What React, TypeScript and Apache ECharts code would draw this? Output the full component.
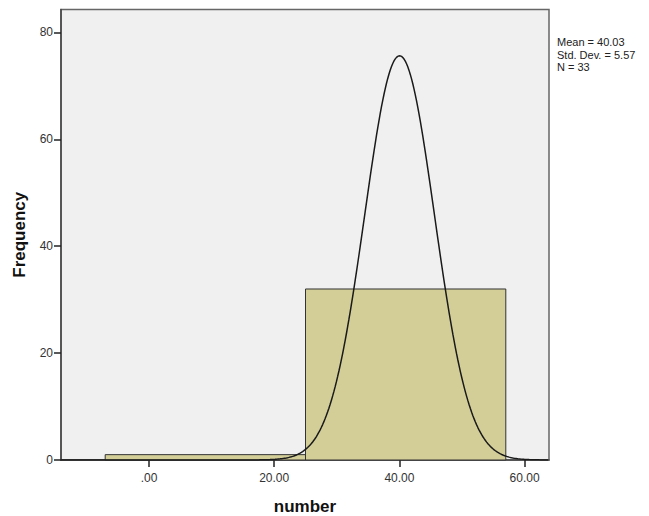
import React, { useEffect, useRef } from "react";
import * as echarts from "echarts";

// Histogram bins: [start, end, frequency]
const binStarts = [-7, 25];
const binEnds = [25, 57];
const binCounts = [1, 32];

// Descriptive statistics shown in the legend
const statMean = 40.03;
const statSd = 5.57;
const statN = 33;
const binWidth = 32;

const xTicks = [0, 20, 40, 60];
const yTicks = [0, 20, 40, 60, 80];

const X_MIN = -14.06;
const X_MAX = 63.9;
const Y_MAX = 84.3;

function normalCurve(): number[][] {
  const pts: number[][] = [];
  const k = (statN * binWidth) / (statSd * Math.sqrt(2 * Math.PI));
  for (let x = X_MIN; x <= X_MAX + 1e-9; x += 0.2) {
    const z = (x - statMean) / statSd;
    pts.push([x, k * Math.exp(-0.5 * z * z)]);
  }
  return pts;
}

export default function App() {
  const ref = useRef<HTMLDivElement>(null);
  useEffect(() => {
    if (!ref.current) return;
    const chart = echarts.init(ref.current, undefined, { renderer: "svg" });
    const bins = binStarts.map((s, i) => [s, binEnds[i], binCounts[i]]);
    chart.setOption({
      animation: false,
      backgroundColor: "#ffffff",
      textStyle: { fontFamily: "Liberation Sans, Arial, sans-serif" },
      grid: {
        left: 61,
        top: 9.5,
        right: 100,
        bottom: 56,
        outerBoundsMode: "none",
        containLabel: false,
        show: true,
        backgroundColor: "#f0f0f0",
        borderColor: "#666666",
        borderWidth: 1.5,
      },
      xAxis: {
        type: "value",
        min: X_MIN,
        max: X_MAX,
        name: "number",
        nameLocation: "middle",
        nameGap: 37.5,
        nameTextStyle: { fontSize: 17, fontWeight: "bold", color: "#111" },
        splitLine: { show: false },
        axisLine: { show: true, onZero: false, lineStyle: { color: "#444", width: 1.5 } },
        axisTick: {
          show: true,
          length: 7,
          lineStyle: { color: "#222", width: 1.5 },
          customValues: xTicks,
        },
        axisLabel: {
          customValues: xTicks,
          color: "#333",
          fontSize: 12,
          margin: 12,
          formatter: (v: number) => (v === 0 ? ".00" : v.toFixed(2)),
        },
      },
      yAxis: {
        type: "value",
        min: 0,
        max: Y_MAX,
        name: "Frequency",
        nameLocation: "middle",
        nameGap: 33,
        nameRotate: 90,
        nameTextStyle: { fontSize: 17, fontWeight: "bold", color: "#111" },
        splitLine: { show: false },
        axisLine: { show: true, onZero: false, lineStyle: { color: "#444", width: 1.5 } },
        axisTick: {
          show: true,
          length: 7,
          lineStyle: { color: "#222", width: 1.5 },
          customValues: yTicks,
        },
        axisLabel: {
          customValues: yTicks,
          color: "#333",
          fontSize: 12,
          margin: 8,
        },
      },
      series: [
        {
          type: "custom",
          data: bins,
          encode: { x: [0, 1], y: 2 },
          renderItem: (params: any, api: any) => {
            const p0 = api.coord([api.value(0), api.value(2)]);
            const p1 = api.coord([api.value(1), 0]);
            return {
              type: "rect",
              shape: { x: p0[0], y: p0[1], width: p1[0] - p0[0], height: p1[1] - p0[1] },
              style: { fill: "#d3ce98", stroke: "#333", lineWidth: 1 },
            };
          },
          z: 2,
        },
        {
          type: "line",
          data: normalCurve(),
          showSymbol: false,
          symbol: "none",
          lineStyle: { color: "#1a1a1a", width: 1.5 },
          z: 3,
        },
      ],
      graphic: [
        {
          type: "text",
          left: 557,
          top: 36,
          style: {
            text: "Mean = " + statMean.toFixed(2) + "\nStd. Dev. = " + statSd.toFixed(2) + "\nN = " + statN,
            font: "11px Liberation Sans, Arial, sans-serif",
            lineHeight: 12.5,
            fill: "#222",
          },
        },
      ],
    });
    return () => chart.dispose();
  }, []);
  return (
    <div
      ref={ref}
      style={{ position: "fixed", left: 0, top: 0, width: 649, height: 516 }}
    />
  );
}
